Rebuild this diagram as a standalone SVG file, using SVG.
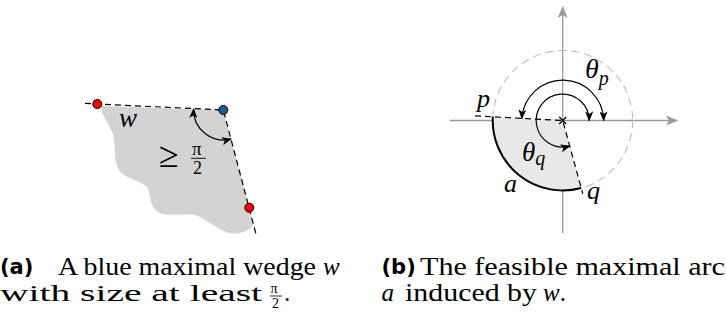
<svg xmlns="http://www.w3.org/2000/svg" width="726" height="321" viewBox="0 0 726 321">
<style>
.dash{fill:none;stroke:#000;stroke-width:1.2;stroke-dasharray:6,4}
.arc{fill:none;stroke:#000;stroke-width:1.2;marker-start:url(#ah);marker-end:url(#ah)}
.axis{fill:none;stroke:#9a9a9a;stroke-width:1.3}
.mi{font-family:Liberation Serif, serif;font-style:italic;fill:#000}
.rm{font-family:Liberation Serif, serif;fill:#000}
.bf{font-family:DejaVu Sans, sans-serif;font-weight:bold;fill:#000}
.pt{stroke:#000;stroke-width:1}
</style>
<defs>
<marker id="ah" viewBox="0 0 10 8" refX="9" refY="4" markerWidth="10" markerHeight="8" markerUnits="userSpaceOnUse" orient="auto-start-reverse">
<path d="M0,0 L10,4 L0,8 L2.5,4 Z" fill="#000"/>
</marker>
<marker id="gah" viewBox="0 0 12 10" refX="11" refY="5" markerWidth="12" markerHeight="10" markerUnits="userSpaceOnUse" orient="auto">
<path d="M0,0 L12,5 L0,10 L3,5 Z" fill="#9a9a9a"/>
</marker>
</defs>

<g id="wedge-a">
<path d="M101,106 L223.3,110 L253.5,224 C250,231 240,235 230,233 C220,231 210,222 198,216 C186,212 168,218 158,212 C148,205 152,192 146,186 C138,180 124,178 119,170 C113,160 116,146 113,134 C110,124 102,118 101,106 Z" fill="#d3d3d3"/>
<path class="dash" d="M85,103.4 L223.3,110 L256.7,236.7"/>
<path class="arc" d="M193.6,109 A30,30 0 0 0 231,139"/>
<text class="mi" x="119" y="127" font-size="27">w</text>
<text class="rm" x="159" y="167" font-size="36">≥</text>
<text class="rm" x="192" y="155" font-size="19">π</text>
<line x1="191" y1="158.3" x2="206" y2="158.3" stroke="#000" stroke-width="0.9"/>
<text class="rm" x="193" y="173.5" font-size="18">2</text>
</g>
<g id="point-red1"><circle class="pt" cx="97.3" cy="104" r="4.5" fill="#f00"/></g>
<g id="point-blue"><circle class="pt" cx="223.3" cy="110" r="4.5" fill="#17608c"/></g>
<g id="point-red2"><circle class="pt" cx="249.3" cy="207.7" r="4.5" fill="#f00"/></g>

<g id="axes-b">
<line class="axis" x1="562.7" y1="233" x2="562.7" y2="7" marker-end="url(#gah)"/>
<line class="axis" x1="450" y1="120.5" x2="677" y2="120.5" marker-end="url(#gah)"/>
</g>
<g id="circle-b">
<circle cx="562.7" cy="120.5" r="70" fill="none" stroke="#bcbcbc" stroke-width="1.1" stroke-dasharray="8,5"/>
<path d="M562.7,120.5 L492.8,116.8 A70,70 0 0 0 581.2,188 Z" fill="#e8e8e8"/>
</g>
<g id="arc-a">
<path d="M492.8,116.8 A70,70 0 0 0 581.2,188" fill="none" stroke="#000" stroke-width="2"/>
</g>
<g id="connectors">
<path class="dash" d="M475,115.9 L562.7,120.5 L582.8,193.8"/>
<path class="arc" d="M603.7,120.5 A41,41 0 0 0 521.8,118.4"/>
<path class="arc" d="M589.2,120.5 A26.5,26.5 0 1 0 569.7,146.1"/>
<path d="M559.2,117 L566.2,124 M566.2,117 L559.2,124" stroke="#000" stroke-width="1.2"/>
</g>
<g id="labels-b">
<text class="mi" x="585" y="78" font-size="28">θ<tspan font-size="20" dy="7">p</tspan></text>
<text class="mi" x="522" y="161" font-size="27">θ<tspan font-size="20" dy="4">q</tspan></text>
<text class="mi" x="477" y="107" font-size="26">p</text>
<text class="mi" x="504" y="192" font-size="26">a</text>
<text class="mi" x="587" y="199" font-size="26">q</text>
</g>

<g id="caption-a">
<text class="bf" x="0" y="274" font-size="21">(a)</text>
<text class="rm" x="58" y="275" font-size="25" textLength="258" lengthAdjust="spacingAndGlyphs">A blue maximal wedge</text>
<text class="mi" x="323" y="275" font-size="25">w</text>
<text class="rm" x="0" y="301" font-size="24" textLength="262" lengthAdjust="spacingAndGlyphs">with size at least</text>
<text class="rm" x="270.5" y="293" font-size="14">π</text>
<line x1="270" y1="296" x2="282" y2="296" stroke="#000" stroke-width="0.8"/>
<text class="rm" x="272" y="307.5" font-size="14">2</text>
<text class="rm" x="284" y="301" font-size="25">.</text>
</g>
<g id="caption-b">
<text class="bf" x="381.5" y="274" font-size="21">(b)</text>
<text class="rm" x="420" y="275" font-size="25" textLength="305" lengthAdjust="spacingAndGlyphs">The feasible maximal arc</text>
<text class="mi" x="381.5" y="301" font-size="25">a</text>
<text class="rm" x="405" y="301" font-size="25" textLength="132" lengthAdjust="spacingAndGlyphs">induced by</text>
<text class="mi" x="543" y="301" font-size="25">w<tspan font-style="normal">.</tspan></text>
</g>
</svg>
